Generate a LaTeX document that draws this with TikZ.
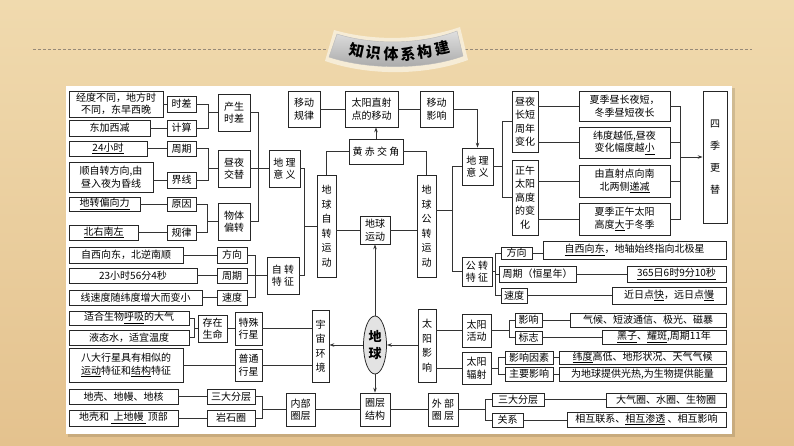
\documentclass[tikz,border=0pt]{standalone}
\usepackage{fontspec}
\usepackage{pdfrender}
\setmainfont{Noto Sans CJK SC}
\usetikzlibrary{shapes.geometric,arrows.meta,calc}
\definecolor{woodA}{RGB}{240,218,174}
\definecolor{woodB}{RGB}{228,194,142}
\definecolor{rimc}{RGB}{246,236,214}
\definecolor{dashc}{RGB}{150,138,120}
\tikzset{
  box/.style={draw=black!85, line width=0.75pt, fill=white, inner sep=0pt, align=center,
    font=\fontsize{10}{12.5}\selectfont},
  vt/.style={font=\fontsize{10}{14.5}\selectfont},
  vq/.style={font=\fontsize{10}{13.5}\selectfont},
  ln/.style={draw=black!80, line width=0.7pt},
  arr/.style={ln, -{Stealth[length=5pt,width=3.5pt]}},
}
\newcommand\bx[7][]{%
  \pgfmathsetmacro\bxcx{(#3+#5)/2}\pgfmathsetmacro\bxcy{(#4+#6)/2}%
  \pgfmathsetmacro\bxw{#5-#3}\pgfmathsetmacro\bxh{#6-#4}%
  \node[box,#1,minimum width=\bxw pt,minimum height=\bxh pt] (#2) at (\bxcx,\bxcy) {#7};}
\begin{document}
\begin{tikzpicture}[x=1pt,y=-1pt]
\useasboundingbox (0,0) rectangle (794,446);
% background
\shade[top color=woodA, bottom color=woodB] (0,0) rectangle (794,446);
\fill[black, opacity=0.12] (68,88) rectangle (735,437);
\fill[white] (66,86) rectangle (732,434);
% dashed rule and title badge
\draw[dashc, line width=1pt, dash pattern=on 3pt off 2pt] (33,50) -- (327,50);
\draw[dashc, line width=1pt, dash pattern=on 3pt off 2pt] (465,50) -- (752,50);
\fill[rimc] (334,30) .. controls (372,41) and (420,41) .. (460,27) -- (468,60) .. controls (425,76) and (368,76) .. (325,61) -- cycle;
\shade[top color=gray!25, bottom color=gray!70, draw=gray!55] (337,34) .. controls (372,45) and (420,45) .. (457,31) -- (463,56) .. controls (425,70) and (368,70) .. (329,57) -- cycle;
\foreach \ch [count=\i] in {知,识,体,系,构,建} {
  \pgfmathsetmacro\tx{357+17*(\i-1)}
  \pgfmathsetmacro\ty{54.5-10*((\tx-396)/60)^2}
  \pgfmathsetmacro\ta{atan(20*(\tx-396)/3600)}
  \node[rotate=\ta, inner sep=0pt, font=\fontsize{15}{15}\selectfont\bfseries] (t\i) at (\tx,\ty)
    {\textpdfrender{TextRenderingMode=FillStroke, LineWidth=0.7, StrokeColor=black!80, FillColor=white}{\ch}};
}

% ---- left top
\bx{jd}{69}{91}{163}{117}{经度不同，地方时\\不同，东早西晚}
\bx{shicha}{167}{96}{196}{112}{时差}
\bx{djxj}{69}{120}{150}{136}{东加西减}
\bx{jisuan}{167}{120}{196}{136}{计算}
\bx{cssc}{218}{94}{250}{131}{产生\\时差}
\bx{h24}{69}{141}{147}{156}{\underline{24小时}}
\bx{zq1}{167}{141}{196}{156}{周期}
\bx{hunx}{69}{162}{153}{192}{顺自转方向,由\\昼入夜为昏线}
\bx{jiex}{167}{172}{196}{188}{界线}
\bx{zyjt}{218}{150}{250}{187}{昼夜\\交替}
\bx{dlyy1}{269}{150}{300}{187}{地 理\\意 义}
\bx{dzpx}{69}{197}{140}{211}{\underline{地转偏向力}}
\bx{yuanyin}{167}{197}{196}{211}{原因}
\bx{btpz}{218}{203}{250}{240}{物体\\偏转}
\bx{bynz}{69}{225}{138}{240}{\underline{北右南左}}
\bx{guilv}{167}{225}{196}{240}{规律}
% ---- left middle
\bx{fx1t}{69}{247}{183}{263}{自西向东，北逆南顺}
\bx{fx1}{217}{247}{247}{263}{方向}
\bx{zq3t}{69}{268}{197}{283}{23小时56分4秒}
\bx{zq3}{217}{268}{247}{283}{周期}
\bx{sd1t}{69}{290}{202}{305}{线速度随纬度增大而变小}
\bx{sd1}{217}{290}{247}{305}{速度}
\bx{zzqz}{267}{257}{299}{294}{自 转\\特 征}
% ---- left lower
\bx{hxdq}{69}{311}{189}{325}{适合生物\underline{呼吸}的大气}
\bx{ytsw}{69}{330}{189}{345}{液态水，适宜温度}
\bx{czsm}{198}{315}{227}{342}{存在\\生命}
\bx{tsxx}{235}{312}{262}{345}{特殊\\行星}
\bx{ptxx}{235}{349}{262}{381}{普通\\行星}
\bx{bdxx}{69}{348}{183}{382}{八大行星具有相似的\\\underline{运动}特征和\underline{结构}特征}
\bx{dkdm}{69}{389}{178}{404}{地壳、地幔、地核}
\bx{sdfc1}{207}{389}{255}{404}{三大分层}
\bx{dkhs}{69}{410}{178}{426}{地壳和\ \underline{\ 上地幔\ }\ 顶部}
\bx{ysq}{207}{410}{255}{426}{岩石圈}
\bx{nbqc}{286}{393}{315}{426}{内部\\圈层}
% ---- centre
\bx{ydgl}{288}{91}{320}{127}{移动\\规律}
\bx{zsd}{345}{91}{398}{127}{太阳直射\\点的移动}
\bx{ydyx}{420}{91}{453}{127}{移动\\影响}
\bx{hcjj}{349}{139}{403}{164}{黄 赤 交 角}
\bx[vt]{zzyd}{317}{175}{336}{277}{地\\球\\自\\转\\运\\动}
\bx[vt]{gzyd}{417}{175}{436}{277}{地\\球\\公\\转\\运\\动}
\bx{dqyd}{360}{216}{390}{244}{地球\\运动}
\bx[vt]{yzhj}{312}{310}{329}{382}{宇\\宙\\环\\境}
\bx[vt]{tyyx}{418}{309}{436}{382}{太\\阳\\影\\响}
\bx{qcjg}{360}{393}{390}{426}{圈层\\结构}
\bx{wbqc}{428}{393}{458}{426}{外 部\\圈 层}
\node[ellipse, draw=black!85, line width=0.75pt, fill=gray!22, minimum width=23pt, minimum height=58pt, inner sep=0pt, align=center, font=\fontsize{13}{17}\selectfont\bfseries] (earth) at (375,345) {地\\球};
% ---- right top
\bx{dlyy2}{462}{148}{493}{185}{地 理\\意 义}
\bx[vq]{zycd}{512}{91}{538}{152}{昼夜\\长短\\周年\\变化}
\bx[vq]{zwgd}{512}{160}{538}{235}{正午\\太阳\\高度\\的变\\化}
\bx{b1}{579}{91}{670}{121}{夏季昼长夜短，\\冬季昼短夜长}
\bx{b2}{579}{127}{670}{158}{纬度越低,昼夜\\变化幅度越\underline{小}}
\bx{b3}{579}{165}{670}{197}{由直射点向南\\北两侧\underline{递减}}
\bx{b4}{579}{203}{670}{235}{夏季正午太阳\\高度\underline{大}于冬季}
\bx[font=\fontsize{10}{22}\selectfont]{sjgt}{703}{91}{727}{223}{四\\季\\更\\替}
% ---- right middle
\bx{gzqz}{462}{257}{492}{286}{公 转\\特 征}
\bx{fx2}{501}{247}{532}{259}{方向}
\bx{fx2t}{543}{241}{726}{259}{\underline{自西向东}，地轴始终指向北极星}
\bx{zq2}{499}{266}{576}{282}{周期（恒星年）}
\bx{zq2t}{627}{266}{726}{282}{\underline{365日6时9分10秒}}
\bx{sd2}{501}{288}{527}{303}{速度}
\bx{sd2t}{612}{287}{726}{304}{近日点\underline{快}，远日点\underline{慢}}
% ---- right lower
\bx{tyhd}{462}{314}{491}{347}{太阳\\活动}
\bx{tyfs}{462}{352}{491}{384}{太阳\\辐射}
\bx{yx}{515}{313}{542}{327}{影响}
\bx{yxt}{570}{313}{726}{327}{气候、短波通信、极光、磁暴}
\bx{bz}{515}{331}{542}{344}{标志}
\bx{bzt}{602}{330}{726}{344}{\underline{黑子}、\underline{耀斑},周期11年}
\bx{yxys}{505}{351}{553}{364}{影响因素}
\bx{yxyst}{559}{351}{726}{364}{\underline{纬度}高低、地形状况、天气气候}
\bx{zyyx}{505}{367}{553}{381}{主要影响}
\bx{zyyxt}{559}{367}{726}{381}{为地球提供光热,为生物提供能量}
\bx{sdfc2}{492}{393}{544}{406}{三大分层}
\bx{sdfc2t}{606}{393}{726}{407}{大气圈、水圈、生物圈}
\bx{gx}{492}{413}{523}{427}{关系}
\bx{gxt}{567}{412}{726}{427}{相互联系、\underline{相互渗透}\ 、相互影响}

% ================= connectors
% left top
\draw[ln] (shicha.west) -- (shicha.west -| jd.east);
\draw[ln] (jisuan.west) -- (jisuan.west -| djxj.east);
\draw[ln] (zq1.west) -- (zq1.west -| h24.east);
\draw[ln] (jiex.west) -- (jiex.west -| hunx.east);
\draw[ln] (yuanyin.west) -- (yuanyin.west -| dzpx.east);
\draw[ln] (guilv.west) -- (guilv.west -| bynz.east);
\draw[ln] (shicha.east) -- ++(12,0) |- (jisuan.east);
\draw[ln] (cssc.west) -- ++(-10,0);
\draw[ln] (zq1.east) -- ++(12,0) |- (jiex.east);
\draw[ln] (zyjt.west) -- ++(-10,0);
\draw[ln] (yuanyin.east) -- ++(11,0) |- (guilv.east);
\draw[ln] (btpz.west) -- ++(-11,0);
\draw[ln] (cssc.east) -- ++(8,0) |- (btpz.east);
\draw[ln] (zyjt.east) -- (dlyy1.west);
\draw[ln] (dlyy1.east) -- ++(4,0) |- (zzqz.east);
\draw[ln] (zzyd.west) -- ++(-13,0);
% left middle
\draw[ln] (fx1.west) -- (fx1.west -| fx1t.east);
\draw[ln] (zq3.west) -- (zq3.west -| zq3t.east);
\draw[ln] (sd1.west) -- (sd1.west -| sd1t.east);
\draw[ln] (fx1.east) -- ++(8,0) |- (sd1.east);
\draw[ln] (zq3.east) -- (zq3.east -| zzqz.west);
% left lower
\draw[ln] (hxdq.east) -- ++(5,0) |- (ytsw.east);
\draw[ln] (czsm.west) -- ++(-4,0);
\draw[ln] (czsm.east) -- (czsm.east -| tsxx.west);
\draw[ln] (tsxx.east) -- (tsxx.east -| yzhj.west);
\draw[ln] (ptxx.west) -- (ptxx.west -| bdxx.east);
\draw[ln] (ptxx.east) -- (ptxx.east -| yzhj.west);
\draw[ln] (sdfc1.west) -- (sdfc1.west -| dkdm.east);
\draw[ln] (ysq.west) -- (ysq.west -| dkhs.east);
\draw[ln] (sdfc1.east) -- ++(7,0) |- (ysq.east);
\draw[ln] (nbqc.west) -- ++(-24,0);
\draw[ln] (nbqc.east) -- (qcjg.west);
\draw[ln] (qcjg.east) -- (wbqc.west);
% centre
\draw[ln] (ydgl.east) -- (zsd.west);
\draw[ln] (zsd.east) -- (ydyx.west);
\draw[arr] (hcjj.north) -- (hcjj.north |- zsd.south);
\draw[ln] (hcjj.west) -| (zzyd.north);
\draw[ln] (hcjj.east) -| (gzyd.north);
\draw[ln] (dqyd.west) -- (dqyd.west -| zzyd.east);
\draw[ln] (dqyd.east) -- (dqyd.east -| gzyd.west);
\draw[arr] (earth.north) -- (dqyd.south);
\draw[arr] (earth.west) -- (earth.west -| yzhj.east);
\draw[arr] (tyyx.west |- earth.east) -- (earth.east);
\draw[arr] (earth.south) -- (qcjg.north);
\draw[arr] (ydyx.east) -| (dlyy2.north);
\coordinate (gj) at (453,210);
\draw[ln] (gj) -- (gj -| gzyd.east);
\draw[ln] (dlyy2.west) -- ++(-9,0) |- (gzqz.west);
% right top
\draw[ln] (dlyy2.east) -- ++(10,0);
\draw[ln] (zycd.west) -- ++(-9,0) |- (zwgd.west);
\draw[ln] (b1.west) -- (b1.west -| zycd.east);
\draw[ln] (b2.west) -- (b2.west -| zycd.east);
\draw[ln] (b3.west) -- (b3.west -| zwgd.east);
\draw[ln] (b4.west) -- (b4.west -| zwgd.east);
\draw[ln] (b1.east) -- ++(10,0) |- (b4.east);
\draw[ln] (b2.east) -- ++(10,0);
\draw[ln] (b3.east) -- ++(10,0);
\coordinate (sj) at (680,157);
\draw[arr] (sj) -- (sj -| sjgt.west);
% right middle
\draw[ln] (gzqz.east) -- ++(4,0);
\draw[ln] (fx2.west) -- ++(-5,0) |- (sd2.west);
\draw[ln] (zq2.west) -- ++(-3,0);
\draw[ln] (fx2.east) -- (fx2.east -| fx2t.west);
\draw[ln] (zq2.east) -- (zq2.east -| zq2t.west);
\draw[ln] (sd2.east) -- (sd2.east -| sd2t.west);
% right lower
\draw[ln] (tyhd.west) -- (tyhd.west -| tyyx.east);
\draw[ln] (tyfs.west) -- (tyfs.west -| tyyx.east);
\draw[ln] (tyhd.east) -- ++(19,0);
\draw[ln] (yx.west) -- ++(-5,0) |- (bz.west);
\draw[ln] (yx.east) -- (yx.east -| yxt.west);
\draw[ln] (bz.east) -- (bz.east -| bzt.west);
\draw[ln] (tyfs.east) -- ++(8,0);
\draw[ln] (yxys.west) -- ++(-6,0) |- (zyyx.west);
\draw[ln] (yxys.east) -- (yxys.east -| yxyst.west);
\draw[ln] (zyyx.east) -- (zyyx.east -| zyyxt.west);
\draw[ln] (wbqc.east) -- ++(28,0);
\draw[ln] (sdfc2.west) -- ++(-6,0) |- (gx.west);
\draw[ln] (sdfc2.east) -- (sdfc2.east -| sdfc2t.west);
\draw[ln] (gx.east) -- (gx.east -| gxt.west);
\end{tikzpicture}
\end{document}
